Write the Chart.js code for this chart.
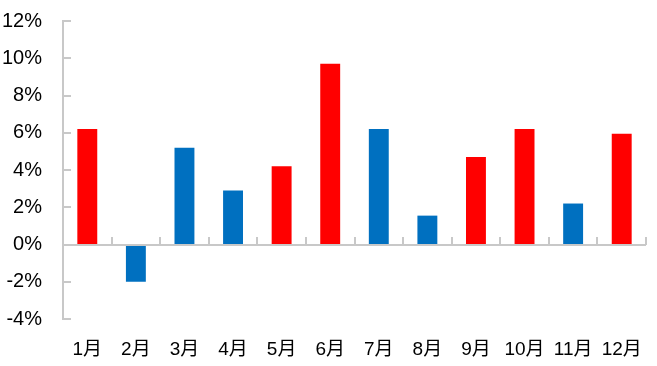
<!DOCTYPE html>
<html>
<head>
<meta charset="utf-8">
<script src="https://cdn.jsdelivr.net/npm/chart.js@4"></script>
<style>
html,body{margin:0;padding:0;background:#fff;}
#wrap{width:657px;height:366px;position:relative;}
</style>
</head>
<body>
<div id="wrap"><canvas id="c" width="657" height="366"></canvas></div>
<script>
const categories = ['1月','2月','3月','4月','5月','6月','7月','8月','9月','10月','11月','12月'];
const values = [6.2, -2.0, 5.2, 2.9, 4.2, 9.7, 6.2, 1.55, 4.7, 6.2, 2.2, 5.95];
const yTicks = [-4, -2, 0, 2, 4, 6, 8, 10, 12];

const RED = '#FF0000', BLUE = '#0070C0';
const barColors = [RED, BLUE, BLUE, BLUE, RED, RED, BLUE, BLUE, RED, RED, BLUE, RED];
const AXIS = '#c8c8c8';
const FONT = '"Liberation Sans", Arial, "Noto Sans CJK SC", sans-serif';

const axisPlugin = {
  id: 'axisDeco',
  afterDatasetsDraw(chart) {
    const ctx = chart.ctx, a = chart.chartArea;
    const ys = chart.scales.y, xs = chart.scales.x;
    ctx.save();
    ctx.strokeStyle = AXIS;
    ctx.lineWidth = 2;
    ctx.beginPath();
    const left = Math.round(a.left);
    ctx.moveTo(left, ys.getPixelForValue(yTicks[yTicks.length-1]));
    ctx.lineTo(left, ys.getPixelForValue(yTicks[0]));
    yTicks.forEach(v => {
      const y = Math.round(ys.getPixelForValue(v));
      ctx.moveTo(left - 1, y);
      ctx.lineTo(left + 8, y);
    });
    const y0 = Math.round(ys.getPixelForValue(0));
    ctx.moveTo(left - 1, y0);
    ctx.lineTo(a.right, y0);
    for (let i = 0; i <= categories.length; i++) {
      const x = Math.round(xs.getPixelForValue(i - 0.5));
      ctx.moveTo(x, y0);
      ctx.lineTo(x, y0 - 8);
    }
    ctx.stroke();
    ctx.restore();
  }
};

new Chart(document.getElementById('c'), {
  type: 'bar',
  data: {
    labels: categories,
    datasets: [{
      data: values,
      backgroundColor: barColors,
      borderWidth: 0,
      barPercentage: 0.41,
      categoryPercentage: 1.0
    }]
  },
  options: {
    responsive: false,
    animation: false,
    devicePixelRatio: 1,
    layout: { padding: { top: 21, right: 11, left: 0, bottom: 0 } },
    plugins: { legend: { display: false }, tooltip: { enabled: false } },
    scales: {
      x: {
        offset: true,
        grid: { display: false },
        border: { display: false },
        ticks: { color: '#000', font: { family: FONT, size: 19 }, padding: 11, maxRotation: 0, autoSkip: false },
        afterFit(s) { s.height = 47; s.paddingLeft = 0; s.paddingRight = 0; }
      },
      y: {
        min: -4, max: 12,
        grid: { display: false },
        border: { display: false },
        afterBuildTicks(s) { s.ticks = yTicks.map(v => ({ value: v })); },
        ticks: { color: '#000', font: { family: FONT, size: 20 }, padding: 13, callback: v => v + '%' },
        afterFit(s) { s.width = 63; s.paddingTop = 0; s.paddingBottom = 0; }
      }
    }
  },
  plugins: [axisPlugin]
});
</script>
</body>
</html>
